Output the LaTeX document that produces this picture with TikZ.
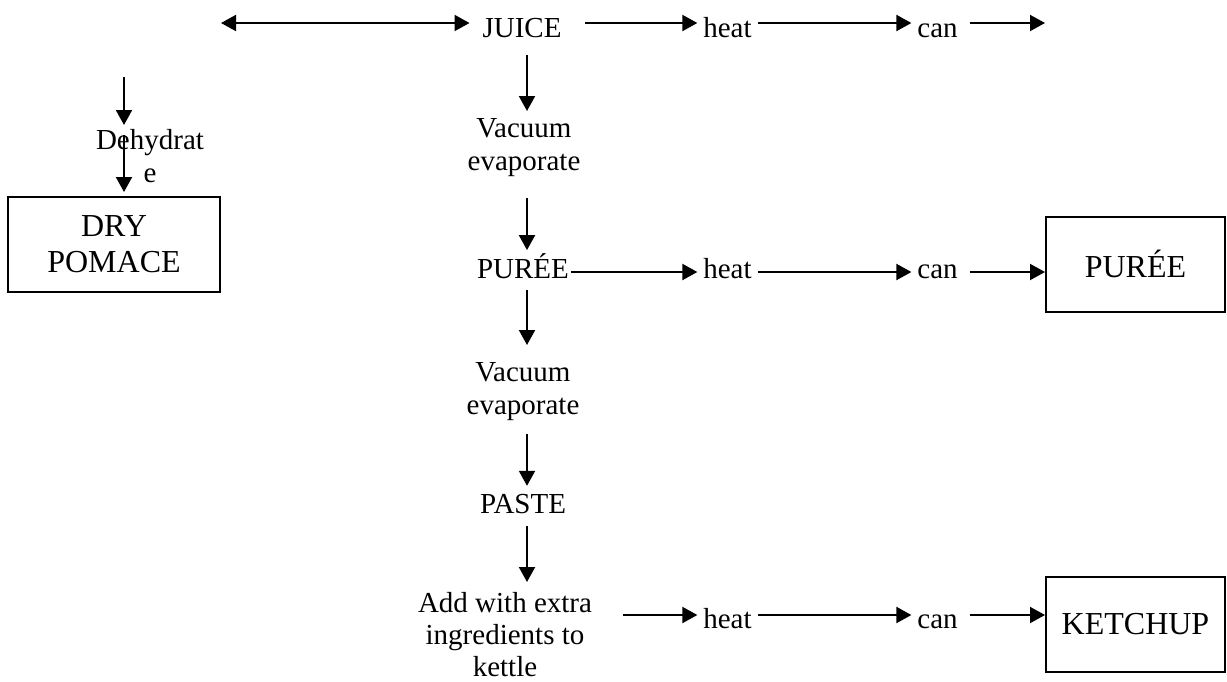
\documentclass[tikz,border=0pt]{standalone}
\usepackage{fontspec}
\setmainfont{Liberation Serif}
\usetikzlibrary{arrows.meta}
\begin{document}
\begin{tikzpicture}[x=0.5pt,y=-0.5pt,line width=1pt,>={Triangle[length=7.5pt,width=8pt]}]
	\tikzset{txt/.style={inner xsep=2.5pt,inner ysep=0pt,align=center,font=\fontsize{14.5}{16.5}\selectfont},
		box/.style={draw,line width=1pt,align=center,minimum height=47.5pt,font=\fontsize{16}{18}\selectfont}}
	\useasboundingbox (0,0) rectangle (1227,681);
	% rows and column of the arrows
	\coordinate (r1) at (0,23);
	\coordinate (r2) at (0,272);
	\coordinate (r3) at (0,615);
	\coordinate (c) at (527,0);
	% main column
	\node[txt,anchor=base] (juice) at (522,37) {JUICE};
	\node[txt,anchor=north] (vac1) at (524,118) {Vacuum\\evaporate};
	\node[txt,anchor=base] (puree) at (523,278) {PURÉE};
	\node[txt,anchor=north] (vac2) at (523,362) {Vacuum\\evaporate};
	\node[txt,anchor=base] (paste) at (523,513) {PASTE};
	\node[txt,anchor=north,font=\fontsize{14.5}{16}\selectfont] (add) at (505,591) {Add with extra\\ingredients to\\kettle};
	% heat and can
	\node[txt,anchor=base] (heat1) at (727.5,37) {heat};
	\node[txt,anchor=base] (can1) at (937.5,37) {can};
	\node[txt,anchor=base] (heat2) at (727.5,278) {heat};
	\node[txt,anchor=base] (can2) at (937.5,278) {can};
	\node[txt,anchor=base] (heat3) at (727.5,628) {heat};
	\node[txt,anchor=base] (can3) at (937.5,628) {can};
	% products
	\node[box,minimum width=106pt] (pomace) at (114,244.5) {DRY\\POMACE};
	\node[box,minimum width=89.5pt] (pbox) at (1135.5,264) {PURÉE};
	\node[box,minimum width=89.5pt] (kbox) at (1135.5,624.5) {KETCHUP};
	\node[txt,anchor=north] (dehy) at (150,128) {Dehydrat\\e};
	% arrows
	\coordinate (dl) at (221,23);
	\coordinate (jend) at (1045,23);
	\coordinate (dtop) at (124,77);
	\coordinate (dmid) at (124,135);
	\draw[<->,shorten >=3.5pt] (dl) -- (juice.west |- r1);
	\draw[->,shorten <=9pt] (juice.east |- r1) -- (heat1.west |- r1);
	\draw[->] (heat1.east |- r1) -- (can1.west |- r1);
	\draw[->,shorten <=3pt] (can1.east |- r1) -- (jend);
	\draw[->,shorten <=-2pt] (puree.east |- r2) -- (heat2.west |- r2);
	\draw[->] (heat2.east |- r2) -- (can2.west |- r2);
	\draw[->,shorten <=3pt] (can2.east |- r2) -- (pbox.west |- r2);
	\draw[->,shorten <=12.5pt] (add.east |- r3) -- (heat3.west |- r3);
	\draw[->] (heat3.east |- r3) -- (can3.west |- r3);
	\draw[->,shorten <=3pt] (can3.east |- r3) -- (kbox.west |- r3);
	\draw[->,shorten <=8.5pt,shorten >=3.5pt] (juice.south -| c) -- (vac1.north -| c);
	\draw[->,shorten <=10pt,shorten >=1pt] (vac1.south -| c) -- (puree.north -| c);
	\draw[->,shorten <=5.5pt,shorten >=8.5pt] (puree.south -| c) -- (vac2.north -| c);
	\draw[->,shorten <=6pt,shorten >=3.5pt] (vac2.south -| c) -- (paste.north -| c);
	\draw[->,shorten <=6pt,shorten >=4.5pt] (paste.south -| c) -- (add.north -| c);
	\draw[->,shorten >=1.5pt] (dtop) -- (dtop |- dehy.north);
	\draw[->,shorten >=2pt] (dmid) -- (dmid |- pomace.north);
\end{tikzpicture}
\end{document}
